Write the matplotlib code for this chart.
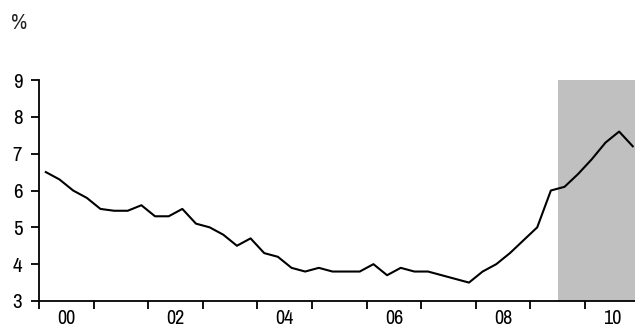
import matplotlib
matplotlib.use("Agg")
import matplotlib.pyplot as plt
from matplotlib import font_manager
import numpy as np

names = sorted({f.name for f in font_manager.fontManager.ttflist})
cond = [n for n in names if 'Narrow' in n or 'Condensed' in n]
fam = cond[0] if cond else 'DejaVu Sans'
plt.rcParams['font.family'] = [fam, 'DejaVu Sans']

start_year = 2000.125
values = [6.5, 6.3, 6.0, 5.8,
          5.5, 5.45, 5.45, 5.6,
          5.3, 5.3, 5.5, 5.1,
          5.0, 4.8, 4.5, 4.7,
          4.3, 4.2, 3.9, 3.8,
          3.9, 3.8, 3.8, 3.8,
          4.0, 3.7, 3.9, 3.8,
          3.8, 3.7, 3.6, 3.5,
          3.8, 4.0, 4.3, 4.65,
          5.0, 6.0, 6.1, 6.45,
          6.85, 7.3, 7.6, 7.2]
x = start_year + 0.25 * np.arange(len(values))
shade_start = 2009.5
year_labels = ['00', '02', '04', '06', '08', '10']
label_years = [2000, 2002, 2004, 2006, 2008, 2010]

fig = plt.figure(figsize=(6.35, 3.29), dpi=100)
ax = fig.add_axes([39/635, 1-301/329, (635-39)/635, (301-80)/329])

xmax = 2000 + 596/54.6
ax.axvspan(shade_start, xmax + 1, ymin=0, ymax=1, color='#c0c0c0', lw=0, zorder=0)
ax.plot(x, values, color='black', lw=1.5, zorder=2)

ax.set_xlim(2000, xmax)
ax.set_ylim(3, 9)
ax.set_yticks(range(3, 10))
ax.set_xticks(range(2000, 2011))
ax.set_xticklabels([])
ax.set_xticks([y + 0.5 for y in label_years], minor=True)
ax.set_xticklabels(year_labels, minor=True)
ax.tick_params(axis='x', which='minor', length=0, pad=6, labelsize=14.5)
ax.tick_params(axis='x', which='major', length=5.5, width=1.3, direction='out')
ax.tick_params(axis='y', length=6, width=1.3, direction='out', labelsize=15, pad=6)
for lab in ax.get_xticklabels(minor=True) + ax.get_yticklabels():
    lab.set_fontweight('bold')

for s in ['top', 'right']:
    ax.spines[s].set_visible(False)
for s in ['left', 'bottom']:
    ax.spines[s].set_linewidth(1.3)

fig.text(11/635, 1-23/329, '%', fontsize=16, va='center', ha='left', color='#222222')

fig.savefig('out.png', dpi=100)
